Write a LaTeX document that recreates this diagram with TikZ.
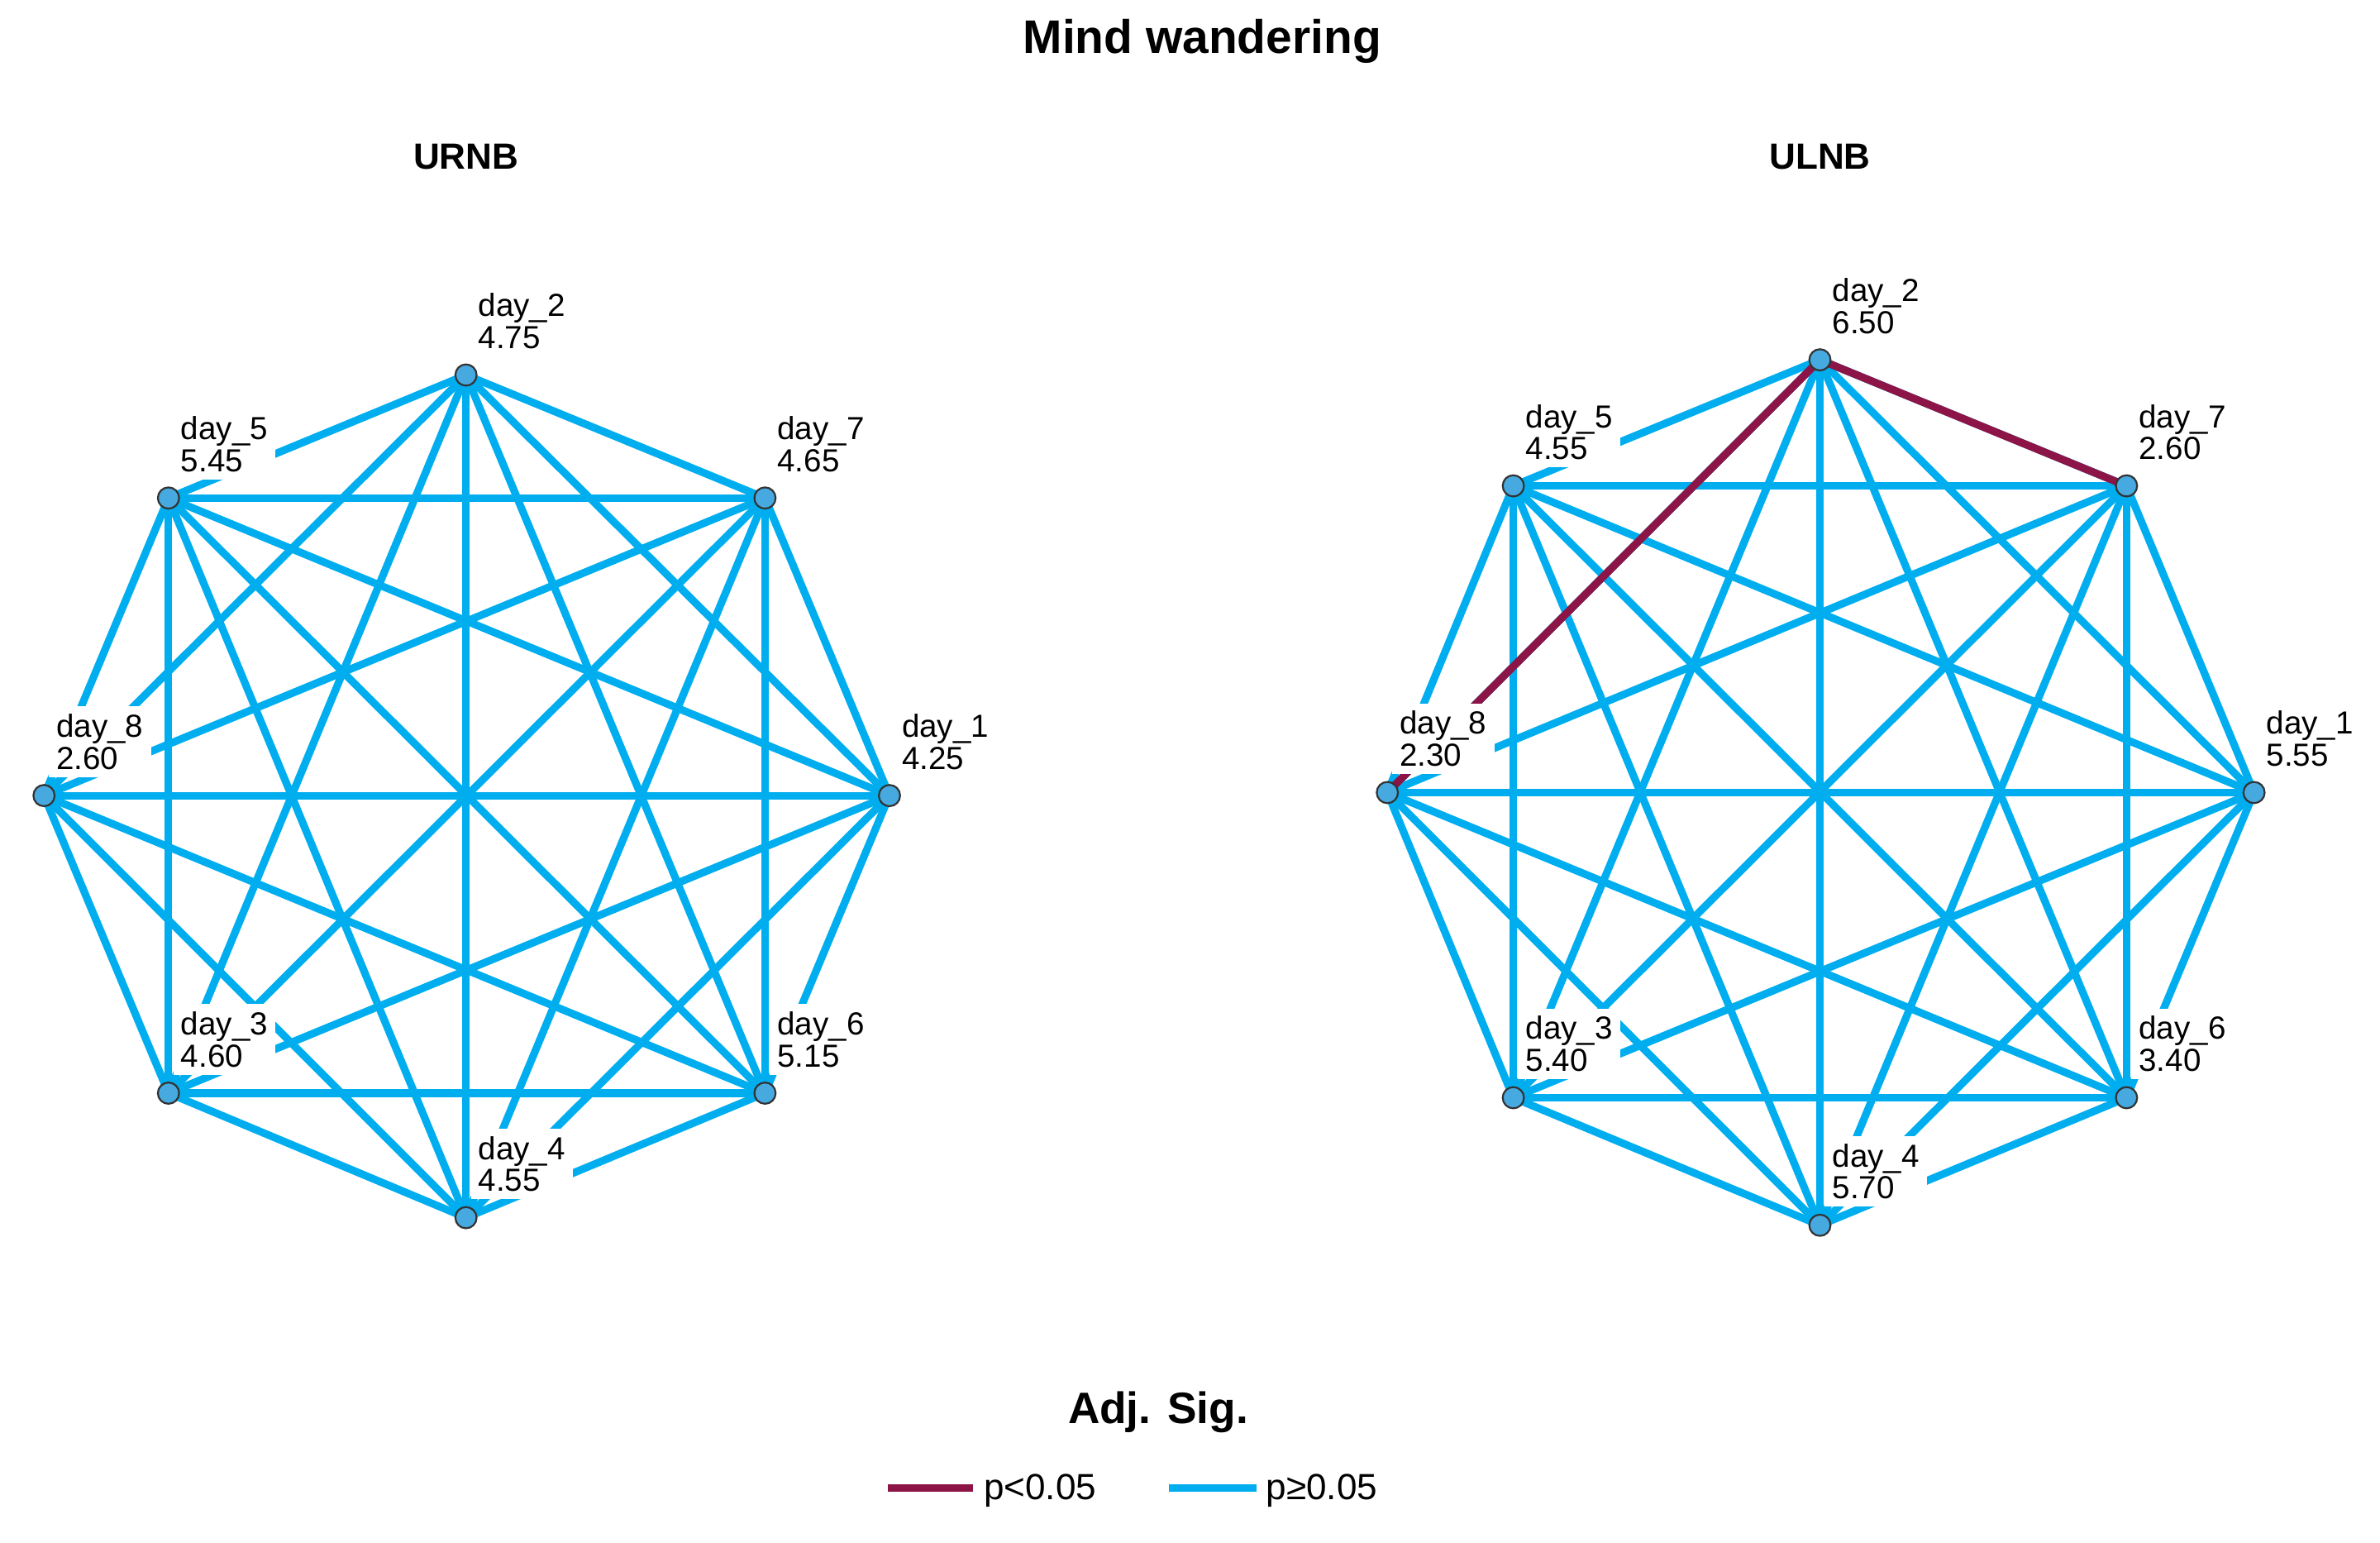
\documentclass[tikz,border=0pt]{standalone}
\usepackage{fontspec}
\setmainfont{Liberation Sans}
\begin{document}
\begin{tikzpicture}[x=1pt,y=-1pt,
  edge/.style={line width=5pt,draw=cb},
  sig/.style={line width=5pt,draw=cr},
  pt/.style={circle,draw=black!80,fill=cn,line width=1.2pt,minimum size=14pt,inner sep=0pt},
  lab/.style={fill=white,inner xsep=5pt,inner ysep=5pt,align=left,font=\fontsize{21}{22}\selectfont,anchor=south west},
  ttl/.style={font=\bfseries\fontsize{24}{26}\selectfont}]
\definecolor{cb}{RGB}{0,174,239}
\definecolor{cr}{RGB}{140,20,70}
\definecolor{cn}{RGB}{70,170,225}
\useasboundingbox (0,0) rectangle (1568,1016);
\node[font=\bfseries\fontsize{31}{33}\selectfont] (title) at (792,27) {Mind wandering};
\node[ttl] (tl) at (307,103) {URNB};
\node[ttl] (tr) at (1199,103) {ULNB};
\foreach \n/\x/\y in {1/586/524,2/307/247,3/111/720,4/307/802,5/111/328,6/504/720,7/504/328,8/29/524}
  \coordinate (L\n) at (\x,\y);
\foreach \n/\x/\y in {1/1485/522,2/1199/237,3/997/723,4/1199/807,5/997/320,6/1401/723,7/1401/320,8/914/522}
  \coordinate (R\n) at (\x,\y);
\foreach \a in {1,...,8}{\foreach \b in {1,...,8}{\ifnum\a<\b
  \draw[edge] (L\a) -- (L\b);
  \draw[edge] (R\a) -- (R\b);
\fi}}
\draw[sig] (R2) -- (R7);
\draw[sig] (R2) -- (R8);
\foreach \n/\v in {1/4.25,2/4.75,3/4.60,4/4.55,5/5.45,6/5.15,7/4.65,8/2.60}
  \node[lab] (lL\n) at ([shift={(3,-12)}]L\n) {day\_\n\\[-1pt]\v};
\foreach \n/\v in {1/5.55,2/6.50,3/5.40,4/5.70,5/4.55,6/3.40,7/2.60,8/2.30}
  \node[lab] (lR\n) at ([shift={(3,-12)}]R\n) {day\_\n\\[-1pt]\v};
\foreach \n in {1,...,8}{
  \node[pt] (nL\n) at (L\n) {};
  \node[pt] (nR\n) at (R\n) {};}
\node[font=\bfseries\fontsize{29}{31}\selectfont] (leg) at (763,930) {Adj. Sig.};
\coordinate (r1) at (585,980); \coordinate (r2) at (641,980);
\draw[sig] (r1) -- (r2);
\node[anchor=west,font=\fontsize{24}{26}\selectfont,inner sep=0pt] (lr) at (648,982) {p<0.05};
\coordinate (b1) at (770,980); \coordinate (b2) at (828,980);
\draw[edge] (b1) -- (b2);
\node[anchor=west,font=\fontsize{24}{26}\selectfont,inner sep=0pt] (lb) at (834,982) {p≥0.05};
\end{tikzpicture}
\end{document}
